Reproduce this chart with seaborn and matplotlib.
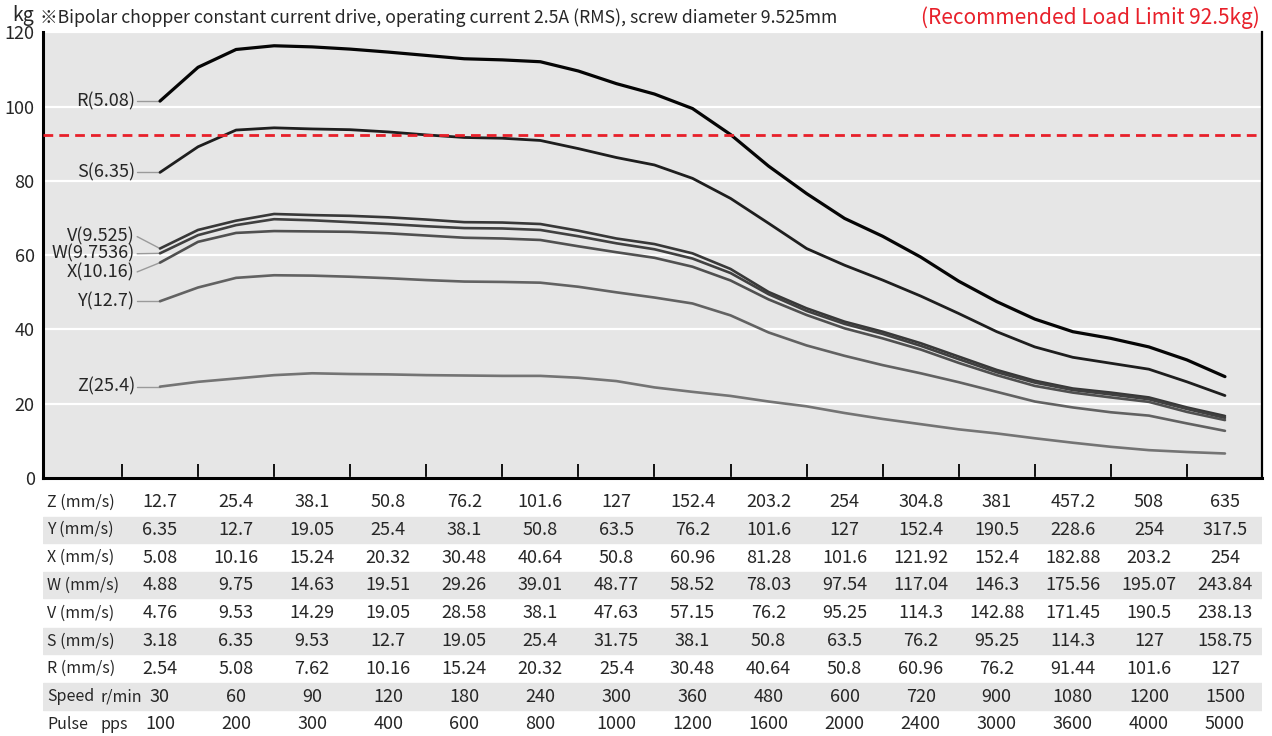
import numpy as np
import pandas as pd
import matplotlib.pyplot as plt
import seaborn as sns

# DATOS (cada media columna)

posiciones = np.arange(0, 14.5, 0.5)

carga_R = [101.5, 110.6, 115.4, 116.4, 116.1, 115.5, 114.7, 113.8, 112.9, 112.6, 112.1, 109.6, 106.2, 103.4, 99.5,
           92.5, 84.0, 76.6, 69.9, 65.1, 59.5, 53.0, 47.5, 42.8, 39.4, 37.6, 35.3, 31.8, 27.3]
carga_S = [82.3, 89.2, 93.7, 94.3, 94.0, 93.8, 93.2, 92.4, 91.7, 91.5, 90.9, 88.7, 86.3, 84.3, 80.7,
           75.3, 68.6, 61.8, 57.3, 53.3, 49.0, 44.3, 39.4, 35.3, 32.5, 30.9, 29.3, 25.9, 22.2]
carga_V = [61.8, 66.8, 69.3, 71.1, 70.8, 70.6, 70.2, 69.6, 68.9, 68.8, 68.4, 66.6, 64.5, 63.0, 60.5,
           56.3, 50.1, 45.7, 42.1, 39.4, 36.3, 32.7, 29.1, 26.2, 24.1, 23.0, 21.7, 19.0, 16.7]
carga_W = [60.5, 65.4, 68.1, 69.7, 69.4, 68.9, 68.4, 67.8, 67.3, 67.2, 66.8, 65.1, 63.2, 61.6, 59.1,
           55.2, 49.5, 45.0, 41.5, 38.8, 35.6, 32.0, 28.5, 25.7, 23.7, 22.5, 21.2, 18.6, 16.2]
carga_X = [58.0, 63.6, 66.0, 66.5, 66.4, 66.3, 65.9, 65.3, 64.7, 64.5, 64.1, 62.4, 60.8, 59.3, 56.9,
           53.2, 48.1, 43.9, 40.3, 37.6, 34.6, 31.0, 27.7, 24.8, 23.0, 21.7, 20.5, 17.8, 15.6]
carga_Y = [47.6, 51.3, 53.9, 54.6, 54.5, 54.2, 53.8, 53.3, 52.9, 52.8, 52.6, 51.5, 50.0, 48.6, 47.0,
           43.8, 39.2, 35.7, 32.9, 30.4, 28.2, 25.8, 23.2, 20.6, 19.0, 17.7, 16.8, 14.7, 12.7]
carga_Z = [24.6, 25.9, 26.8, 27.7, 28.2, 28.0, 27.9, 27.7, 27.6, 27.5, 27.5, 27.0, 26.1, 24.4, 23.2,
           22.1, 20.6, 19.3, 17.5, 15.9, 14.5, 13.1, 12.0, 10.7, 9.5, 8.4, 7.5, 7.0, 6.6]

series = ["R", "S", "V", "W", "X", "Y", "Z"]
cargas = [carga_R, carga_S, carga_V, carga_W, carga_X, carga_Y, carga_Z]
etiquetas = ["R(5.08)", "S(6.35)", "V(9.525)", "W(9.7536)", "X(10.16)", "Y(12.7)", "Z(25.4)"]
limite_recomendado = 92.5

# tabla inferior
filas_tabla = ["Z (mm/s)", "Y (mm/s)", "X (mm/s)", "W (mm/s)", "V (mm/s)", "S (mm/s)", "R (mm/s)",
               "Speed", "Pulse"]
unidades_tabla = ["", "", "", "", "", "", "", "r/min", "pps"]
vel_Z = ["12.7", "25.4", "38.1", "50.8", "76.2", "101.6", "127", "152.4", "203.2", "254", "304.8", "381", "457.2", "508", "635"]
vel_Y = ["6.35", "12.7", "19.05", "25.4", "38.1", "50.8", "63.5", "76.2", "101.6", "127", "152.4", "190.5", "228.6", "254", "317.5"]
vel_X = ["5.08", "10.16", "15.24", "20.32", "30.48", "40.64", "50.8", "60.96", "81.28", "101.6", "121.92", "152.4", "182.88", "203.2", "254"]
vel_W = ["4.88", "9.75", "14.63", "19.51", "29.26", "39.01", "48.77", "58.52", "78.03", "97.54", "117.04", "146.3", "175.56", "195.07", "243.84"]
vel_V = ["4.76", "9.53", "14.29", "19.05", "28.58", "38.1", "47.63", "57.15", "76.2", "95.25", "114.3", "142.88", "171.45", "190.5", "238.13"]
vel_S = ["3.18", "6.35", "9.53", "12.7", "19.05", "25.4", "31.75", "38.1", "50.8", "63.5", "76.2", "95.25", "114.3", "127", "158.75"]
vel_R = ["2.54", "5.08", "7.62", "10.16", "15.24", "20.32", "25.4", "30.48", "40.64", "50.8", "60.96", "76.2", "91.44", "101.6", "127"]
velocidad_rpm = ["30", "60", "90", "120", "180", "240", "300", "360", "480", "600", "720", "900", "1080", "1200", "1500"]
pulsos_pps = ["100", "200", "300", "400", "600", "800", "1000", "1200", "1600", "2000", "2400", "3000", "3600", "4000", "5000"]
valores_tabla = [vel_Z, vel_Y, vel_X, vel_W, vel_V, vel_S, vel_R, velocidad_rpm, pulsos_pps]

# ESTILO

colores = {"R": "#050505", "S": "#1e1e1e", "V": "#383838", "W": "#404040", "X": "#505050", "Y": "#626262", "Z": "#747474"}
grosores = {"R": 2.3, "S": 2.0, "V": 1.9, "W": 1.9, "X": 1.9, "Y": 1.9, "Z": 1.9}
# posicion (valor en kg) de cada etiqueta a la izquierda
y_etiqueta = {"R": 101.5, "S": 82.3, "V": 65.0, "W": 60.4, "X": 55.5, "Y": 47.6, "Z": 24.6}

sns.set_theme(style="white")
plt.rcParams["font.family"] = ["Noto Sans CJK JP", "DejaVu Sans"]
plt.rcParams["font.size"] = 13

W_PX, H_PX = 1272, 736
fig = plt.figure(figsize=(W_PX / 100, H_PX / 100), dpi=100)
ax = fig.add_axes([43 / W_PX, (H_PX - 478) / H_PX, (1262 - 43) / W_PX, (478 - 32.4) / H_PX])
tab = fig.add_axes([43 / W_PX, 0, (1262 - 43) / W_PX, (H_PX - 488) / H_PX])

df = pd.DataFrame({
    "pos": np.tile(posiciones, len(series)),
    "kg": np.concatenate(cargas),
    "serie": np.repeat(series, len(posiciones)),
})

ax.set_facecolor("#e6e6e6")
for s in series:
    sns.lineplot(data=df[df["serie"] == s], x="pos", y="kg", color=colores[s], lw=grosores[s],
                 ax=ax, legend=False, sort=False, zorder=3)

ax.axhline(limite_recomendado, color="#e8202a", lw=2, dashes=(3.5, 2.2), zorder=4)

# etiquetas con linea guia
for s, etiqueta, valores in zip(series, etiquetas, cargas):
    ax.plot([-0.30, 0], [y_etiqueta[s], valores[0]], color="#9a9a9a", lw=1, zorder=2)
    ax.text(-0.33, y_etiqueta[s], etiqueta, ha="right", va="center", fontsize=13)

ax.set_xlim(-1.538, 14.487)
ax.set_ylim(0, 120)
ax.set_yticks(range(0, 121, 20))
ax.set_xticks(np.arange(-0.5, 14, 1))
ax.set_xticklabels([])
ax.set_xlabel("")
ax.set_ylabel("")
ax.yaxis.grid(True, color="white", lw=1.6)
ax.set_axisbelow(True)
ax.tick_params(axis="x", bottom=True, direction="in", length=10, width=1.3, color="black")
ax.tick_params(axis="y", left=False, length=0, pad=6, labelsize=13)
for lado, grosor in [("left", 2.2), ("bottom", 2.2), ("right", 1.6)]:
    ax.spines[lado].set_color("black")
    ax.spines[lado].set_linewidth(grosor)
ax.spines["top"].set_visible(False)

# TABLA

tab.set_xlim(ax.get_xlim())
tab.set_ylim(8.42, -0.504)
tab.axis("off")
for i, (fila, unidad, valores) in enumerate(zip(filas_tabla, unidades_tabla, valores_tabla)):
    if i % 2 == 1:
        tab.axhspan(i - 0.47, i + 0.47, color="#e6e6e6", zorder=0)
    tab.text(-1.485, i, fila, ha="left", va="center", fontsize=11.5)
    if unidad:
        tab.text(-0.78, i, unidad, ha="left", va="center", fontsize=11.5)
    for j, v in enumerate(valores):
        tab.text(j, i, v, ha="center", va="center", fontsize=13)

# TITULOS

fig.text(12 / W_PX, 1 - 15 / H_PX, "kg", ha="left", va="center", fontsize=14)
fig.text(40 / W_PX, 1 - 18 / H_PX,
         "※Bipolar chopper constant current drive, operating current 2.5A (RMS), screw diameter 9.525mm",
         ha="left", va="center", fontsize=12.7)
fig.text(1260 / W_PX, 1 - 18 / H_PX, "(Recommended Load Limit 92.5kg)", color="#e8202a",
         ha="right", va="center", fontsize=15)

fig.savefig("out.png", dpi=100)
